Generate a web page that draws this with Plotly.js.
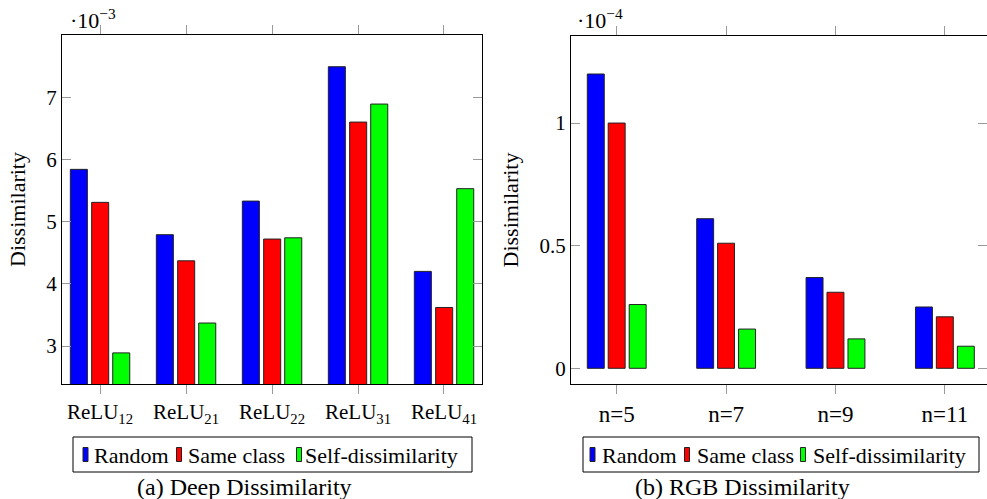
<!DOCTYPE html>
<html>
<head>
<meta charset="utf-8">
<script src="https://cdn.plot.ly/plotly-3.0.1.min.js"></script>
<style>
html,body{margin:0;padding:0;background:#fff;}
#chart{width:987px;height:499px;}
</style>
</head>
<body>
<div id="chart"></div>
<script>
// ---- Data ----
const seriesNames = ['Random', 'Same class', 'Self-dissimilarity'];
const seriesColors = ['#0000ff', '#ff0000', '#00ff00'];

// (a) Deep Dissimilarity, values in units of 10^-3
const deepCategories = ['ReLU<sub>12</sub>', 'ReLU<sub>21</sub>', 'ReLU<sub>22</sub>', 'ReLU<sub>31</sub>', 'ReLU<sub>41</sub>'];
const deepRandom    = [5.84, 4.79, 5.33, 7.49, 4.20];
const deepSameClass = [5.31, 4.37, 4.72, 6.60, 3.62];
const deepSelf      = [2.89, 3.37, 4.74, 6.89, 5.53];
const deepScaleLabel = '·10<sup>−3</sup>';
const deepTicks = [3, 4, 5, 6, 7];

// (b) RGB Dissimilarity, values in units of 10^-4
const rgbCategories = ['n=5', 'n=7', 'n=9', 'n=11'];
const rgbRandom    = [1.20, 0.61, 0.37, 0.25];
const rgbSameClass = [1.00, 0.51, 0.31, 0.21];
const rgbSelf      = [0.26, 0.16, 0.12, 0.09];
const rgbScaleLabel = '·10<sup>−4</sup>';
const rgbTicks = [0, 0.5, 1];

const yTitle = 'Dissimilarity';
const captionA = '(a) Deep Dissimilarity';
const captionB = '(b) RGB Dissimilarity';

// ---- Style ----
const W = 987, H = 499;
const FONT = 'Liberation Serif';
const barLine = {color: '#222', width: 1};

function makeBars(cats, vals, xa, ya, width, offsets) {
  return vals.map((v, i) => ({
    type: 'bar', x: cats, y: v, name: seriesNames[i],
    marker: {color: seriesColors[i], line: barLine},
    xaxis: xa, yaxis: ya, showlegend: false,
    width: width, offset: offsets[i],
    hoverinfo: 'x+y+name'
  }));
}

const deepVals = [deepRandom, deepSameClass, deepSelf];
const rgbVals = [rgbRandom, rgbSameClass, rgbSelf];

const traces = [
  ...makeBars(deepCategories, deepVals, 'x', 'y', 0.198, [-0.345, -0.097, 0.148]),
  ...makeBars(rgbCategories, rgbVals, 'x2', 'y2', 0.155, [-0.269, -0.078, 0.114])
];

const px = v => v / W;
const py = v => 1 - v / H;

const xCommon = {
  type: 'category', showline: true, linecolor: '#000', linewidth: 1, mirror: 'allticks',
  ticks: 'outside', ticklen: 9, tickcolor: '#999', tickwidth: 1,
  showgrid: false, zeroline: false, fixedrange: true
};
const yCommon = {
  showline: true, linecolor: '#000', linewidth: 1, mirror: 'allticks',
  ticks: 'inside', ticklen: 9, tickcolor: '#999', tickwidth: 1,
  showgrid: false, zeroline: false, fixedrange: true,
  tickfont: {family: FONT, size: 21, color: '#000'},
  tickmode: 'array'
};

// Legend boxes drawn in the pgfplots style (thin tall swatches)
const legendSpecs = [
  {box: [73, 472], swatchX: [83, 176.5, 296.5], textX: [92, 186, 302.5]},
  {box: [583, 979], swatchX: [590, 684.5, 800.5], textX: [600, 695, 811]}
];
const legTop = 437, legBot = 472, legMid = 454.5;
const shapes = [];
const annotations = [];
legendSpecs.forEach(spec => {
  shapes.push({type: 'rect', xref: 'paper', yref: 'paper', x0: px(spec.box[0]), x1: px(spec.box[1]),
    y0: py(legBot), y1: py(legTop), line: {color: '#000', width: 1}, fillcolor: '#fff', layer: 'above'});
  seriesNames.forEach((name, i) => {
    shapes.push({type: 'rect', xref: 'paper', yref: 'paper', x0: px(spec.swatchX[i]), x1: px(spec.swatchX[i] + 5),
      y0: py(legMid + 7), y1: py(legMid - 7), line: {color: '#222', width: 1}, fillcolor: seriesColors[i], layer: 'above'});
    annotations.push({text: name, xref: 'paper', yref: 'paper', x: px(spec.textX[i]), y: py(legMid + 1),
      xanchor: 'left', yanchor: 'middle', showarrow: false,
      font: {family: FONT, size: 22, color: '#000'}});
  });
});

annotations.push(
  {text: deepScaleLabel, xref: 'paper', yref: 'paper', x: px(68), y: py(19), xanchor: 'left', yanchor: 'middle',
   showarrow: false, font: {family: FONT, size: 22, color: '#000'}},
  {text: rgbScaleLabel, xref: 'paper', yref: 'paper', x: px(575), y: py(19), xanchor: 'left', yanchor: 'middle',
   showarrow: false, font: {family: FONT, size: 22, color: '#000'}},
  {text: captionA, xref: 'paper', yref: 'paper', x: px(244), y: py(487), xanchor: 'center', yanchor: 'middle',
   showarrow: false, font: {family: FONT, size: 24, color: '#000'}},
  {text: captionB, xref: 'paper', yref: 'paper', x: px(742), y: py(487), xanchor: 'center', yanchor: 'middle',
   showarrow: false, font: {family: FONT, size: 24, color: '#000'}}
);

const layout = {
  width: W, height: H,
  margin: {l: 0, r: 0, t: 0, b: 0},
  paper_bgcolor: '#fff', plot_bgcolor: '#fff',
  barmode: 'overlay',
  showlegend: false,
  font: {family: FONT, color: '#000'},
  xaxis: Object.assign({}, xCommon, {domain: [px(62), px(482)], range: [-0.442, 4.442], anchor: 'y',
    tickfont: {family: FONT, size: 21, color: '#000'}}),
  yaxis: Object.assign({}, yCommon, {domain: [py(384), py(35)], range: [2.39, 8.0], tickvals: deepTicks, anchor: 'x',
    title: {text: yTitle, font: {family: FONT, size: 22, color: '#000'}, standoff: 14}}),
  xaxis2: Object.assign({}, xCommon, {domain: [px(571), 1], range: [-0.418, 3.385], anchor: 'y2',
    tickfont: {family: FONT, size: 23, color: '#000'}}),
  yaxis2: Object.assign({}, yCommon, {domain: [py(384), py(36)], range: [-0.064, 1.355], tickvals: rgbTicks, anchor: 'x2',
    title: {text: yTitle, font: {family: FONT, size: 22, color: '#000'}, standoff: 14}}),
  shapes: shapes,
  annotations: annotations
};

Plotly.newPlot('chart', traces, layout, {displayModeBar: false});
</script>
</body>
</html>
